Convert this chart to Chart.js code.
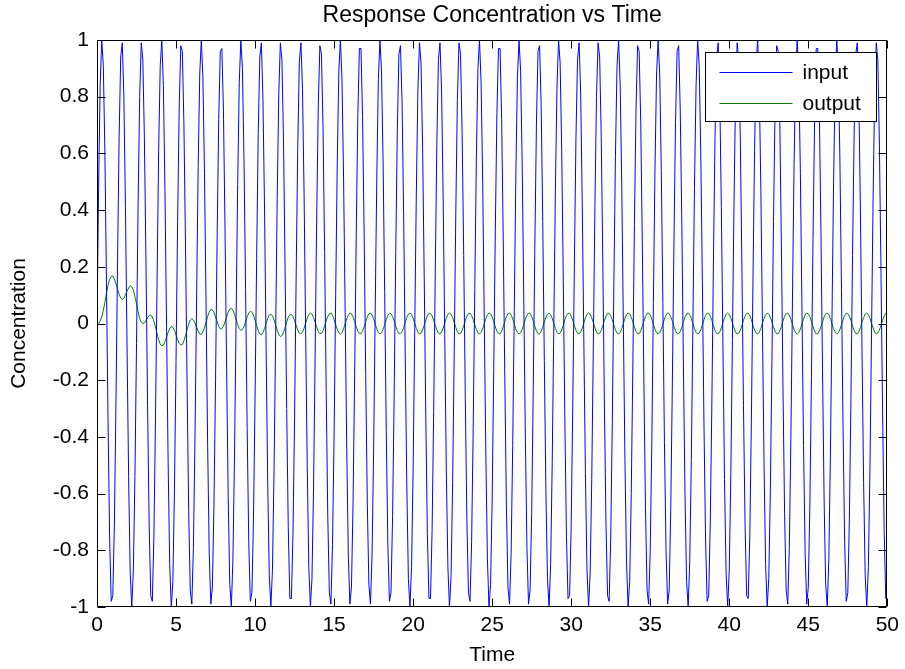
<!DOCTYPE html>
<html>
<head>
<meta charset="utf-8">
<title>Response Concentration vs Time</title>
<script src="https://cdn.jsdelivr.net/npm/chart.js@4.4.1/dist/chart.umd.min.js"></script>
<style>
    html, body { margin: 0; padding: 0; background: #ffffff; }
    #chartWrap { width: 905px; height: 669px; position: relative; }
</style>
</head>
<body>
<div id="chartWrap"><canvas id="responseChart"></canvas></div>
<script>
// sampling step of the simulation (time units)
var timeStep = 0.1;

// input concentration, one value every 0.1 time units (t = 0 .. 50)
var inputConc = [
    0, 0.48, 0.84, 1.00, 0.91, 0.60, 0.14, -0.35, -0.76, -0.98, -0.96, -0.71, -0.28, 0.22, 0.66, 0.94, 0.99, 0.80, 0.41, -0.08, -0.54, -0.88, -1.00, -0.87, -0.54,
    -0.07, 0.42, 0.80, 0.99, 0.93, 0.65, 0.21, -0.29, -0.71, -0.96, -0.98, -0.75, -0.34, 0.15, 0.61, 0.91, 1.00, 0.84, 0.47, -0.01, -0.49, -0.85, -1.00, -0.91, -0.59,
    -0.13, 0.36, 0.76, 0.98, 0.96, 0.70, 0.27, -0.22, -0.66, -0.94, -0.99, -0.79, -0.40, 0.08, 0.55, 0.88, 1.00, 0.87, 0.53, 0.06, -0.43, -0.81, -0.99, -0.93, -0.64,
    -0.20, 0.30, 0.72, 0.96, 0.97, 0.75, 0.33, -0.16, -0.61, -0.92, -1.00, -0.83, -0.46, 0.02, 0.49, 0.85, 1.00, 0.90, 0.58, 0.12, -0.37, -0.77, -0.98, -0.95, -0.69,
    -0.26, 0.23, 0.67, 0.94, 0.99, 0.79, 0.40, -0.09, -0.56, -0.89, -1.00, -0.87, -0.52, -0.05, 0.44, 0.81, 0.99, 0.93, 0.64, 0.19, -0.30, -0.72, -0.97, -0.97, -0.74,
    -0.33, 0.17, 0.62, 0.92, 0.99, 0.83, 0.46, -0.03, -0.50, -0.86, -1.00, -0.90, -0.58, -0.11, 0.38, 0.77, 0.98, 0.95, 0.69, 0.25, -0.24, -0.68, -0.95, -0.99, -0.78,
    -0.39, 0.10, 0.57, 0.89, 1.00, 0.86, 0.51, 0.04, -0.44, -0.82, -0.99, -0.93, -0.63, -0.18, 0.31, 0.73, 0.97, 0.97, 0.73, 0.32, -0.18, -0.63, -0.92, -0.99, -0.82,
    -0.45, 0.04, 0.51, 0.86, 1.00, 0.89, 0.57, 0.11, -0.38, -0.78, -0.98, -0.95, -0.68, -0.25, 0.25, 0.68, 0.95, 0.98, 0.78, 0.38, -0.11, -0.57, -0.90, -1.00, -0.86,
    -0.51, -0.03, 0.45, 0.82, 0.99, 0.92, 0.62, 0.17, -0.32, -0.74, -0.97, -0.97, -0.73, -0.31, 0.18, 0.63, 0.93, 0.99, 0.82, 0.44, -0.04, -0.52, -0.86, -1.00, -0.89,
    -0.56, -0.10, 0.39, 0.79, 0.99, 0.95, 0.67, 0.24, -0.26, -0.69, -0.95, -0.98, -0.77, -0.37, 0.12, 0.58, 0.90, 1.00, 0.85, 0.50, 0.02, -0.46, -0.83, -1.00, -0.92,
    -0.62, -0.16, 0.33, 0.74, 0.97, 0.97, 0.72, 0.30, -0.19, -0.64, -0.93, -0.99, -0.81, -0.43, 0.05, 0.53, 0.87, 1.00, 0.89, 0.56, 0.09, -0.40, -0.79, -0.99, -0.94,
    -0.67, -0.23, 0.27, 0.70, 0.96, 0.98, 0.77, 0.36, -0.13, -0.59, -0.90, -1.00, -0.85, -0.49, -0.01, 0.47, 0.83, 1.00, 0.92, 0.61, 0.15, -0.34, -0.75, -0.97, -0.96,
    -0.71, -0.29, 0.20, 0.65, 0.93, 0.99, 0.81, 0.42, -0.06, -0.53, -0.87, -1.00, -0.88, -0.55, -0.08, 0.41, 0.80, 0.99, 0.94, 0.66, 0.22, -0.28, -0.70, -0.96, -0.98,
    -0.76, -0.35, 0.14, 0.59, 0.91, 1.00, 0.84, 0.48, 0.00, -0.48, -0.84, -1.00, -0.91, -0.60, -0.15, 0.35, 0.75, 0.98, 0.96, 0.71, 0.28, -0.21, -0.65, -0.94, -0.99,
    -0.80, -0.42, 0.07, 0.54, 0.88, 1.00, 0.88, 0.54, 0.07, -0.42, -0.80, -0.99, -0.94, -0.65, -0.21, 0.28, 0.71, 0.96, 0.98, 0.75, 0.35, -0.15, -0.60, -0.91, -1.00,
    -0.84, -0.48, 0.00, 0.48, 0.84, 1.00, 0.91, 0.59, 0.14, -0.35, -0.76, -0.98, -0.96, -0.70, -0.28, 0.22, 0.66, 0.94, 0.99, 0.80, 0.41, -0.08, -0.55, -0.88, -1.00,
    -0.87, -0.53, -0.06, 0.42, 0.81, 0.99, 0.93, 0.65, 0.20, -0.29, -0.71, -0.96, -0.97, -0.75, -0.34, 0.15, 0.61, 0.92, 1.00, 0.83, 0.47, -0.01, -0.49, -0.85, -1.00,
    -0.90, -0.59, -0.13, 0.36, 0.77, 0.98, 0.96, 0.70, 0.27, -0.23, -0.67, -0.94, -0.99, -0.79, -0.40, 0.09, 0.56, 0.89, 1.00, 0.87, 0.53, 0.05, -0.43, -0.81, -0.99,
    -0.93, -0.64, -0.19, 0.30, 0.72, 0.97, 0.97, 0.74, 0.33, -0.16, -0.62, -0.92, -1.00, -0.83, -0.46, 0.02, 0.50, 0.85, 1.00, 0.90, 0.58, 0.12, -0.37, -0.77, -0.98,
    -0.95, -0.69, -0.26, 0.24, 0.67, 0.95, 0.99, 0.79, 0.39, -0.10, -0.56, -0.89, -1.00, -0.86, -0.52, -0.04, 0.44, 0.82, 0.99, 0.93, 0.63, 0.18, -0.31, -0.73, -0.97,
    -0.97
];

// output concentration on the same time grid
var outputConc = [
    0, 0.000, 0.009, 0.023, 0.046, 0.075, 0.107, 0.135, 0.156, 0.166, 0.167, 0.157, 0.140, 0.121, 0.103, 0.090, 0.085, 0.089, 0.100, 0.114, 0.125, 0.133, 0.130, 0.118, 0.095,
    0.069, 0.042, 0.018, 0.004, 0.000, 0.002, 0.010, 0.021, 0.028, 0.030, 0.023, 0.009, -0.012, -0.036, -0.058, -0.073, -0.079, -0.076, -0.064, -0.048, -0.031, -0.018, -0.011, -0.013, -0.024,
    -0.040, -0.057, -0.070, -0.076, -0.074, -0.061, -0.042, -0.021, -0.002, 0.012, 0.017, 0.012, 0.002, -0.013, -0.027, -0.037, -0.038, -0.030, -0.015, 0.005, 0.025, 0.041, 0.050, 0.048, 0.039,
    0.023, 0.006, -0.010, -0.019, -0.018, -0.010, 0.006, 0.023, 0.040, 0.051, 0.053, 0.047, 0.032, 0.014, -0.004, -0.018, -0.024, -0.021, -0.011, 0.006, 0.023, 0.037, 0.043, 0.040, 0.030,
    0.012, -0.008, -0.026, -0.037, -0.040, -0.032, -0.018, 0.000, 0.018, 0.030, 0.033, 0.027, 0.013, -0.005, -0.024, -0.038, -0.046, -0.043, -0.032, -0.014, 0.005, 0.022, 0.031, 0.032, 0.024,
    0.010, -0.007, -0.023, -0.034, -0.037, -0.031, -0.017, 0.001, 0.019, 0.032, 0.037, 0.033, 0.021, 0.004, -0.014, -0.028, -0.036, -0.035, -0.026, -0.009, 0.009, 0.025, 0.035, 0.037, 0.029,
    0.014, -0.004, -0.021, -0.033, -0.037, -0.032, -0.019, -0.001, 0.016, 0.030, 0.037, 0.034, 0.023, 0.007, -0.011, -0.027, -0.036, -0.036, -0.027, -0.012, 0.007, 0.023, 0.034, 0.037, 0.030,
    0.017, -0.001, -0.019, -0.032, -0.037, -0.033, -0.021, -0.004, 0.014, 0.029, 0.036, 0.035, 0.025, 0.009, -0.009, -0.025, -0.035, -0.036, -0.029, -0.014, 0.004, 0.021, 0.033, 0.037, 0.032,
    0.019, 0.001, -0.017, -0.030, -0.037, -0.034, -0.023, -0.006, 0.012, 0.027, 0.036, 0.036, 0.027, 0.011, -0.007, -0.023, -0.034, -0.037, -0.030, -0.016, 0.001, 0.019, 0.032, 0.037, 0.033,
    0.021, 0.004, -0.014, -0.029, -0.037, -0.035, -0.025, -0.009, 0.010, 0.026, 0.035, 0.036, 0.028, 0.014, -0.004, -0.021, -0.033, -0.037, -0.031, -0.019, -0.001, 0.017, 0.031, 0.037, 0.034,
    0.023, 0.006, -0.012, -0.027, -0.036, -0.036, -0.027, -0.011, 0.007, 0.024, 0.034, 0.037, 0.030, 0.016, -0.002, -0.020, -0.032, -0.037, -0.033, -0.021, -0.003, 0.015, 0.029, 0.037, 0.035,
    0.025, 0.009, -0.010, -0.026, -0.036, -0.036, -0.028, -0.013, 0.005, 0.022, 0.033, 0.037, 0.031, 0.018, 0.000, -0.017, -0.031, -0.037, -0.034, -0.023, -0.006, 0.013, 0.028, 0.036, 0.036,
    0.026, 0.011, -0.007, -0.024, -0.034, -0.037, -0.030, -0.016, 0.002, 0.020, 0.032, 0.037, 0.033, 0.020, 0.003, -0.015, -0.030, -0.037, -0.035, -0.024, -0.008, 0.010, 0.026, 0.036, 0.036,
    0.028, 0.013, -0.005, -0.022, -0.034, -0.037, -0.031, -0.018, 0.000, 0.018, 0.031, 0.037, 0.034, 0.022, 0.006, -0.013, -0.028, -0.036, -0.036, -0.026, -0.010, 0.008, 0.024, 0.035, 0.037,
    0.030, 0.016, -0.003, -0.020, -0.033, -0.037, -0.033, -0.020, -0.003, 0.016, 0.030, 0.037, 0.035, 0.024, 0.008, -0.010, -0.026, -0.036, -0.036, -0.028, -0.013, 0.006, 0.022, 0.034, 0.037,
    0.031, 0.018, 0.000, -0.018, -0.031, -0.037, -0.034, -0.022, -0.005, 0.013, 0.028, 0.036, 0.036, 0.026, 0.010, -0.008, -0.024, -0.035, -0.037, -0.030, -0.015, 0.003, 0.020, 0.033, 0.037,
    0.032, 0.020, 0.002, -0.016, -0.030, -0.037, -0.034, -0.024, -0.007, 0.011, 0.026, 0.036, 0.036, 0.028, 0.013, -0.006, -0.023, -0.034, -0.037, -0.031, -0.017, 0.000, 0.018, 0.031, 0.037,
    0.033, 0.022, 0.005, -0.013, -0.028, -0.036, -0.036, -0.026, -0.010, 0.009, 0.025, 0.035, 0.037, 0.029, 0.015, -0.003, -0.021, -0.033, -0.037, -0.032, -0.020, -0.002, 0.016, 0.030, 0.037,
    0.034, 0.024, 0.007, -0.011, -0.027, -0.036, -0.036, -0.027, -0.012, 0.006, 0.023, 0.034, 0.037, 0.031, 0.017, -0.001, -0.019, -0.031, -0.037, -0.033, -0.021, -0.004, 0.014, 0.028, 0.036,
    0.035, 0.026, 0.010, -0.009, -0.025, -0.035, -0.037, -0.029, -0.014, 0.004, 0.021, 0.033, 0.037, 0.032, 0.019, 0.001, -0.016, -0.030, -0.037, -0.034, -0.023, -0.007, 0.011, 0.027, 0.036,
    0.036
];

var seriesNames = ['input', 'output'];
var seriesColors = ['#0000ff', '#008000'];

var xTickValues = [0, 5, 10, 15, 20, 25, 30, 35, 40, 45, 50];
var yTickValues = [-1, -0.8, -0.6, -0.4, -0.2, 0, 0.2, 0.4, 0.6, 0.8, 1];

var fontFamily = '"Liberation Sans", Arial, Helvetica, sans-serif';

// turn a value list into {x, y} points on the time grid
function toPoints(values) {
    return values.map(function(v, i) {
        return { x: i * timeStep, y: v };
    });
}

// title, matlab style box with inward ticks and the boxed legend
var matlabFrame = {
    id: 'matlabFrame',
    afterDraw: function(chart) {
        var ctx = chart.ctx;
        var area = chart.chartArea;
        var xScale = chart.scales.x;
        var yScale = chart.scales.y;
        var left = Math.round(area.left) + 0.5;
        var right = Math.round(area.right) - 0.5;
        var top = Math.round(area.top) + 0.5;
        var bottom = Math.round(area.bottom) - 0.5;
        var tickLen = 8;

        ctx.save();

        // title
        ctx.fillStyle = '#000';
        ctx.font = '23px ' + fontFamily;
        ctx.textAlign = 'center';
        ctx.textBaseline = 'middle';
        ctx.fillText('Response Concentration vs Time', (area.left + area.right) / 2, 16);

        // axes box
        ctx.strokeStyle = '#000';
        ctx.lineWidth = 1;
        ctx.beginPath();
        ctx.rect(left, top, right - left, bottom - top);
        ctx.stroke();

        // tick marks pointing inwards on all four sides
        ctx.beginPath();
        xScale.ticks.forEach(function(t) {
            var px = Math.round(xScale.getPixelForValue(t.value)) + 0.5;
            ctx.moveTo(px, bottom);
            ctx.lineTo(px, bottom - tickLen);
            ctx.moveTo(px, top);
            ctx.lineTo(px, top + tickLen);
        });
        yScale.ticks.forEach(function(t) {
            var py = Math.round(yScale.getPixelForValue(t.value)) + 0.5;
            ctx.moveTo(left, py);
            ctx.lineTo(left + tickLen, py);
            ctx.moveTo(right, py);
            ctx.lineTo(right - tickLen, py);
        });
        ctx.stroke();

        // legend box in the upper right corner
        var boxW = 171, boxH = 69;
        var boxX = Math.round(area.right) - 11 - boxW + 0.5;
        var boxY = Math.round(area.top) + 12 + 0.5;
        ctx.fillStyle = '#fff';
        ctx.fillRect(boxX, boxY, boxW, boxH);
        ctx.strokeStyle = '#000';
        ctx.strokeRect(boxX, boxY, boxW, boxH);

        ctx.font = '21px ' + fontFamily;
        ctx.textAlign = 'left';
        ctx.textBaseline = 'middle';
        chart.data.datasets.forEach(function(ds, i) {
            var rowY = Math.round(boxY + 19 + i * 31) + 0.5;
            ctx.strokeStyle = ds.borderColor;
            ctx.beginPath();
            ctx.moveTo(boxX + 14, rowY);
            ctx.lineTo(boxX + 87, rowY);
            ctx.stroke();
            ctx.fillStyle = '#000';
            ctx.fillText(ds.label, boxX + 97, rowY + 1);
        });

        ctx.restore();
    }
};

var ctx = document.getElementById('responseChart').getContext('2d');
var chart = new Chart(ctx, {
    type: 'line',
    data: {
        datasets: [{
            label: seriesNames[0],
            data: toPoints(inputConc),
            borderColor: seriesColors[0],
            borderWidth: 1,
            pointRadius: 0,
            tension: 0,
            fill: false
        }, {
            label: seriesNames[1],
            data: toPoints(outputConc),
            borderColor: seriesColors[1],
            borderWidth: 1,
            pointRadius: 0,
            tension: 0,
            fill: false
        }]
    },
    options: {
        responsive: true,
        maintainAspectRatio: false,
        devicePixelRatio: 1,
        animation: false,
        layout: {
            padding: { left: 0, right: 17, top: 40, bottom: 0 }
        },
        plugins: {
            legend: { display: false },
            tooltip: { enabled: false },
            title: { display: false }
        },
        scales: {
            x: {
                type: 'linear',
                min: 0,
                max: 50,
                afterBuildTicks: function(scale) {
                    scale.ticks = xTickValues.map(function(v) { return { value: v }; });
                },
                afterFit: function(scale) {
                    scale.height = 62;
                },
                grid: { display: false, drawTicks: false },
                border: { display: false },
                ticks: {
                    color: '#000',
                    padding: 6,
                    maxRotation: 0,
                    autoSkip: false,
                    font: { family: fontFamily, size: 21 },
                    callback: function(v) { return String(v); }
                },
                title: {
                    display: true,
                    text: 'Time',
                    color: '#000',
                    font: { family: fontFamily, size: 21 },
                    padding: { top: 0, bottom: 1 }
                }
            },
            y: {
                type: 'linear',
                min: -1,
                max: 1,
                afterBuildTicks: function(scale) {
                    scale.ticks = yTickValues.map(function(v) { return { value: v }; });
                },
                afterFit: function(scale) {
                    scale.width = 97;
                },
                grid: { display: false, drawTicks: false },
                border: { display: false },
                ticks: {
                    color: '#000',
                    padding: 8,
                    autoSkip: false,
                    font: { family: fontFamily, size: 21 },
                    callback: function(v) { return String(Math.round(v * 10) / 10); }
                },
                title: {
                    display: true,
                    text: 'Concentration',
                    color: '#000',
                    font: { family: fontFamily, size: 21 },
                    padding: { top: 7, bottom: 0 }
                }
            }
        }
    },
    plugins: [matlabFrame]
});
</script>
</body>
</html>
